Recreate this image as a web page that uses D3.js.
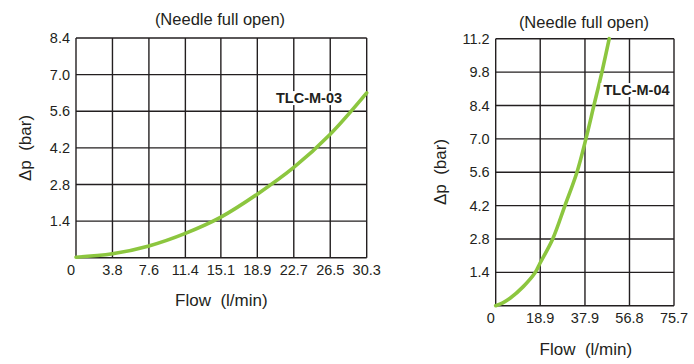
<!DOCTYPE html>
<html><head><meta charset="utf-8">
<script src="https://cdn.jsdelivr.net/npm/d3@7"></script>
<style>
html,body{margin:0;padding:0;background:#fff;}
svg text{font-family:"Liberation Sans",Arial,sans-serif;fill:#231f20;white-space:pre;}
</style></head>
<body>
<svg id="chart" width="694" height="364"></svg>
<script>
// ---- data ----
const titleText = "(Needle full open)";
const xTitle = "Flow  (l/min)";
const yTitle = "Δp  (bar)";

const leftName = "TLC-M-03";
const leftXTicks = [0, 3.8, 7.6, 11.4, 15.1, 18.9, 22.7, 26.5, 30.3];
const leftYTicks = [0, 1.4, 2.8, 4.2, 5.6, 7.0, 8.4];
const leftFlow = [0, 3.8, 7.6, 11.4, 15.1, 18.9, 22.7, 26.5, 30.3];
const leftDp   = [0.02, 0.15, 0.45, 0.93, 1.55, 2.43, 3.45, 4.72, 6.3];

const rightName = "TLC-M-04";
const rightXTicks = [0, 18.9, 37.9, 56.8, 75.7];
const rightYTicks = [0, 1.4, 2.8, 4.2, 5.6, 7.0, 8.4, 9.8, 11.2];
const rightFlow = [0, 3, 6.1, 11.7, 16.7, 18.8, 24.2, 29.4, 34.5, 38.3, 41.7, 45.1, 48.2];
const rightDp   = [0, 0.12, 0.31, 0.8, 1.38, 1.78, 2.8, 4.2, 5.6, 7.0, 8.4, 9.8, 11.2];

const svg = d3.select("#chart");

function drawPanel(cfg) {
  const g = svg.append("g");
  const x = d3.scaleLinear().domain([0, d3.max(cfg.xTicks)]).range([cfg.left, cfg.right]);
  const y = d3.scaleLinear().domain([0, d3.max(cfg.yTicks)]).range([cfg.bottom, cfg.top]);

  // grid
  g.append("g").selectAll("line").data(cfg.xTicks).join("line")
    .attr("x1", d => x(d)).attr("x2", d => x(d))
    .attr("y1", cfg.top).attr("y2", cfg.bottom)
    .attr("stroke", "#231f20").attr("stroke-width", 1.4);
  g.append("g").selectAll("line").data(cfg.yTicks).join("line")
    .attr("y1", d => y(d)).attr("y2", d => y(d))
    .attr("x1", cfg.left).attr("x2", cfg.right)
    .attr("stroke", "#231f20").attr("stroke-width", 1.4);

  // tick labels
  g.append("g").selectAll("text").data(cfg.xTicks).join("text")
    .attr("x", d => x(d)).attr("dx", (d, i) => i === 0 ? -5 : 0)
    .attr("y", cfg.bottom + 12)
    .attr("dy", "0.35em")
    .attr("text-anchor", "middle")
    .attr("font-size", 14.5)
    .text(d => d === 0 ? "0" : d.toFixed(1));
  g.append("g").selectAll("text").data(cfg.yTicks.filter(d => d > 0)).join("text")
    .attr("x", cfg.left - 6).attr("y", d => y(d))
    .attr("dy", "0.35em")
    .attr("text-anchor", "end")
    .attr("font-size", 14.5)
    .text(d => d.toFixed(1));

  // titles
  g.append("text").attr("x", cfg.titleX).attr("y", cfg.titleY)
    .attr("dy", "0.35em").attr("text-anchor", "middle").attr("font-size", 16.5)
    .text(titleText);
  g.append("text").attr("x", (cfg.left + cfg.right) / 2 + cfg.xTitleDx).attr("y", cfg.xTitleY)
    .attr("dy", "0.35em").attr("text-anchor", "middle").attr("font-size", 17)
    .text(xTitle);
  g.append("text")
    .attr("transform", `translate(${cfg.yTitleX},${cfg.yTitleY}) rotate(-90)`)
    .attr("dy", "0.35em").attr("text-anchor", "middle").attr("font-size", 17)
    .text(yTitle);

  // curve
  const pts = cfg.flow.map((f, i) => [f, cfg.dp[i]]);
  const line = d3.line().x(d => x(d[0])).y(d => y(d[1])).curve(d3.curveCatmullRom.alpha(0.5));
  g.append("path").datum(pts).attr("d", line)
    .attr("fill", "none").attr("stroke", "#8cc63f").attr("stroke-width", 3.6)
    .attr("stroke-linecap", "round");

  // label with white background
  const bg = g.append("rect").attr("fill", "#fff");
  const lbl = g.append("text").attr("x", cfg.labelX).attr("y", cfg.labelY)
    .attr("dy", "0.35em").attr("text-anchor", "middle")
    .attr("font-size", 14.5).attr("font-weight", "bold")
    .text(cfg.name);
  const bb = lbl.node().getBBox();
  bg.attr("x", bb.x - 3).attr("y", bb.y + 1).attr("width", bb.width + 6).attr("height", bb.height - 2);
}

drawPanel({
  left: 76, right: 366.7, top: 38, bottom: 257.7,
  xTicks: leftXTicks, yTicks: leftYTicks, flow: leftFlow, dp: leftDp, name: leftName,
  titleX: 220, titleY: 19, xTitleDx: 0, xTitleY: 300, yTitleX: 25, yTitleY: 148,
  labelX: 309, labelY: 98
});

drawPanel({
  left: 495.7, right: 674, top: 38.7, bottom: 305.7,
  xTicks: rightXTicks, yTicks: rightYTicks, flow: rightFlow, dp: rightDp, name: rightName,
  titleX: 584, titleY: 22, xTitleDx: 1, xTitleY: 349, yTitleX: 440, yTitleY: 172,
  labelX: 636.5, labelY: 90
});
</script>
</body></html>
